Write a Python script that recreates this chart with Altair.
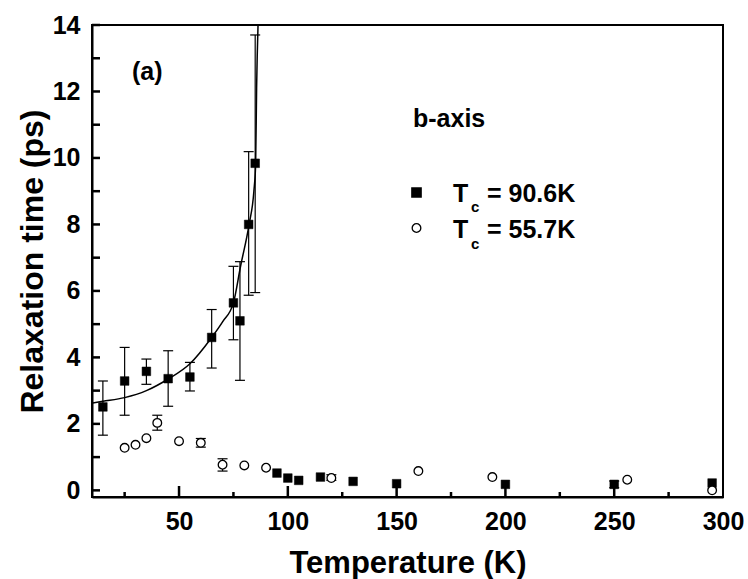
import altair as alt
import pandas as pd

# ---------------- data ----------------
# filled squares: Tc = 90.6 K
sq_T = [15, 25, 35, 45, 55, 65, 75, 78, 82, 85, 95, 100, 105, 115, 130, 150, 200, 250, 295]
sq_tau = [2.51, 3.29, 3.58, 3.36, 3.41, 4.60, 5.64, 5.10, 8.00, 9.84,
          0.52, 0.37, 0.30, 0.40, 0.27, 0.20, 0.18, 0.18, 0.22]
# open circles: Tc = 55.7 K
ci_T = [25, 30, 35, 40, 50, 60, 70, 80, 90, 120, 160, 194, 256, 295]
ci_tau = [1.28, 1.37, 1.57, 2.03, 1.48, 1.43, 0.77, 0.75, 0.68, 0.37, 0.58, 0.40, 0.32, 0.00]
# error bars (squares first, then circles)
err_T = [15, 25, 35, 45, 55, 65, 75, 78, 82, 85, 250, 40, 60, 70, 120]
err_lo = [1.66, 2.26, 3.19, 2.53, 2.99, 3.68, 4.53, 3.31, 5.87, 5.95, 0.08, 1.81, 1.30, 0.58, 0.30]
err_hi = [3.29, 4.30, 3.95, 4.20, 3.85, 5.44, 6.74, 6.88, 10.19, 13.70, 0.28, 2.26, 1.56, 0.95, 0.47]
# fitted curve
fit_T = [10.3, 15, 25, 35, 45, 55, 65, 70, 75, 78.3, 82.2, 84.4, 85.2, 85.65, 86.4]
fit_tau = [2.63, 2.68, 2.79, 3.00, 3.35, 3.81, 4.60, 5.07, 5.64, 6.75, 8.00, 9.00, 9.80, 12.10, 14.20]

x_labels = [50, 100, 150, 200, 250, 300]
x_minor = [25, 75, 125, 175, 225, 275]
y_labels = [0, 2, 4, 6, 8, 10, 12, 14]
y_ticks = list(range(0, 15))

x_title = "Temperature (K)"
y_title = "Relaxation time (ps)"
panel_label = "(a)"
legend_title = "b-axis"
legend_main = ["T", "T"]
legend_sub = ["c", "c"]
legend_rest = ["= 90.6K", "= 55.7K"]

X_DOM = [10, 300]
Y_DOM = [-0.2, 14]
FONT = "Liberation Sans"
W, H = 631, 472
TICK = "black"


def xsc():
    return alt.Scale(domain=X_DOM, nice=False, zero=False)


def ysc():
    return alt.Scale(domain=Y_DOM, nice=False, zero=False)


sq = pd.DataFrame({"T": sq_T, "tau": sq_tau})
ci = pd.DataFrame({"T": ci_T, "tau": ci_tau})
err = pd.DataFrame({"T": err_T, "lo": err_lo, "hi": err_hi})
fit = pd.DataFrame({"T": fit_T, "tau": fit_tau})
xmaj = pd.DataFrame({"T": x_labels[:-1]})
xmin = pd.DataFrame({"T": x_minor})
yt = pd.DataFrame({"tau": y_ticks})
one = pd.DataFrame({"k": [0]})

# fitted line carrying the main (labelled) axes
fit_layer = alt.Chart(fit).mark_line(
    clip=True, interpolate="monotone", color="black", strokeWidth=1.5
).encode(
    x=alt.X("T:Q", scale=xsc(), axis=alt.Axis(
        values=x_labels, title=x_title, tickSize=0, labelPadding=12,
        titlePadding=14, domainWidth=2, domainColor="black", grid=False,
        labelFlush=False, labelOverlap=False,
        labelFontSize=25, labelFontWeight="bold", titleFontSize=31,
        titleFontWeight="bold", labelFont=FONT, titleFont=FONT,
        labelColor="black", titleColor="black")),
    y=alt.Y("tau:Q", scale=ysc(), axis=alt.Axis(
        values=y_labels, title=y_title, tickSize=0, labelPadding=12,
        titlePadding=3, domainWidth=2, domainColor="black", grid=False,
        labelFlush=False, labelOverlap=False,
        labelFontSize=25, labelFontWeight="bold", titleFontSize=32,
        titleFontWeight="bold", labelFont=FONT, titleFont=FONT,
        labelColor="black", titleColor="black")),
)

# inward ticks, placed through the scales
x_major_ticks = alt.Chart(xmaj).mark_rule(color=TICK, strokeWidth=2.5).encode(
    x=alt.X("T:Q", scale=xsc(), axis=None),
    y=alt.value(H - 11), y2=alt.value(H),
)
x_minor_ticks = alt.Chart(xmin).mark_rule(color=TICK, strokeWidth=2.5).encode(
    x=alt.X("T:Q", scale=xsc(), axis=None),
    y=alt.value(H - 5), y2=alt.value(H),
)
y_inner_ticks = alt.Chart(yt).mark_rule(color=TICK, strokeWidth=2.5).encode(
    y=alt.Y("tau:Q", scale=ysc(), axis=None),
    x=alt.value(0), x2=alt.value(8),
)

# error bars
err_rule = alt.Chart(err).mark_rule(color="black", strokeWidth=1.2).encode(
    x=alt.X("T:Q", scale=xsc(), axis=None),
    y=alt.Y("lo:Q", scale=ysc(), axis=None),
    y2="hi:Q",
)
cap_lo = alt.Chart(err).mark_tick(orient="horizontal", size=10, thickness=1.2, color="black", opacity=1).encode(
    x=alt.X("T:Q", scale=xsc(), axis=None),
    y=alt.Y("lo:Q", scale=ysc(), axis=None),
)
cap_hi = alt.Chart(err).mark_tick(orient="horizontal", size=10, thickness=1.2, color="black", opacity=1).encode(
    x=alt.X("T:Q", scale=xsc(), axis=None),
    y=alt.Y("hi:Q", scale=ysc(), axis=None),
)

squares = alt.Chart(sq).mark_point(
    shape="square", filled=True, fill="black", stroke="black", strokeWidth=0.5, size=75, opacity=1
).encode(
    x=alt.X("T:Q", scale=xsc(), axis=None),
    y=alt.Y("tau:Q", scale=ysc(), axis=None),
)
circles = alt.Chart(ci).mark_point(
    shape="circle", filled=True, fill="white", stroke="black", strokeWidth=1.3, size=75, opacity=1
).encode(
    x=alt.X("T:Q", scale=xsc(), axis=None),
    y=alt.Y("tau:Q", scale=ysc(), axis=None),
)


# annotations / legend
def txt(s, x, y, size):
    return alt.Chart(one).mark_text(
        text=s, font=FONT, fontWeight="bold", fontSize=size, color="black",
        align="left", baseline="alphabetic"
    ).encode(x=alt.value(x), y=alt.value(y))


ann = [
    txt(panel_label, 40, 55, 25),
    txt(legend_title, 321, 102, 25),
    txt(legend_main[0], 361, 177, 25),
    txt(legend_sub[0], 379, 187, 15),
    txt(legend_rest[0], 395, 177, 25),
    txt(legend_main[1], 361, 213, 25),
    txt(legend_sub[1], 379, 224, 15),
    txt(legend_rest[1], 395, 213, 25),
]
leg_sq = alt.Chart(one).mark_point(
    shape="square", filled=True, fill="black", stroke="black", size=75, opacity=1
).encode(x=alt.value(324.5), y=alt.value(167.5))
leg_ci = alt.Chart(one).mark_point(
    shape="circle", filled=True, fill="white", stroke="black", strokeWidth=1.3, size=75, opacity=1
).encode(x=alt.value(324.5), y=alt.value(203))

chart = alt.layer(
    fit_layer, err_rule, cap_lo, cap_hi, squares, circles,
    x_major_ticks, x_minor_ticks, y_inner_ticks, leg_sq, leg_ci, *ann
).resolve_scale(
    x="independent", y="independent"
).properties(
    width=W, height=H,
    autosize=alt.AutoSizeParams(type="none"),
    padding={"left": 92, "top": 25, "right": 25, "bottom": 82},
    background="white",
).configure_view(
    stroke="black", strokeWidth=2
)

chart.save("out.html", embed_options={"renderer": "svg", "actions": False})
